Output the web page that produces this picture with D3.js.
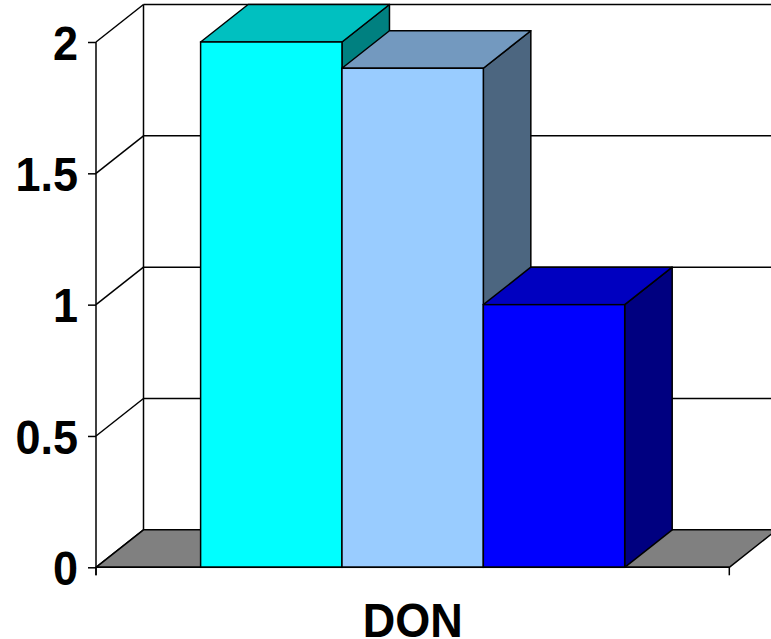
<!DOCTYPE html>
<html>
<head>
<meta charset="utf-8">
<script src="https://cdn.jsdelivr.net/npm/d3@7"></script>
<style>
html,body{margin:0;padding:0;background:#fff;}
svg{display:block;}
text{font-family:"Liberation Sans",Arial,sans-serif;font-weight:bold;fill:#000;}
</style>
</head>
<body>
<svg id="chart" width="771" height="639"></svg>
<script>
const categories = ["DON"];
const series = ["Series 1", "Series 2", "Series 3"];
const values = [2.0, 1.9, 1.0];
const yTicks = [0, 0.5, 1, 1.5, 2];
const yTickLabels = ["0", "0.5", "1", "1.5", "2"];
const frontColors = ["#00FFFF", "#99CCFF", "#0000FF"];
const topColors = ["#00C0C0", "#7399BF", "#0000C0"];
const sideColors = ["#008080", "#4C6680", "#000080"];

(function () {
const svg = d3.select("#chart");
const pLeft = 96, pRight = 729.3, pBottom = 567.3, pTop = 42;
const dx = 47.5, dy = -37.5;
const SW = 1.5;

const y = d3.scaleLinear().domain([0, 2]).range([pBottom, pTop]);
const xCat = d3.scaleBand().domain(categories).range([pLeft, pRight]);
const xSer = d3.scaleBand().domain(series).range([pLeft, pRight]).paddingInner(0).paddingOuter(0.74);

const g = svg.append("g");

// back wall gridlines + side wall diagonals
yTicks.forEach(t => {
  g.append("line")
    .attr("x1", pLeft + dx).attr("x2", pRight + dx)
    .attr("y1", y(t) + dy).attr("y2", y(t) + dy)
    .attr("stroke", "#000").attr("stroke-width", SW);
  g.append("line")
    .attr("x1", pLeft).attr("y1", y(t))
    .attr("x2", pLeft + dx).attr("y2", y(t) + dy)
    .attr("stroke", "#000").attr("stroke-width", SW);
});
g.append("line")
  .attr("x1", pLeft + dx).attr("x2", pLeft + dx)
  .attr("y1", y(2) + dy).attr("y2", y(0) + dy)
  .attr("stroke", "#000").attr("stroke-width", SW);

// floor
g.append("path")
  .attr("d", `M${pLeft},${y(0)}L${pRight},${y(0)}L${pRight + dx},${y(0) + dy}L${pLeft + dx},${y(0) + dy}Z`)
  .attr("fill", "#808080").attr("stroke", "#000").attr("stroke-width", SW)
  .attr("stroke-linejoin", "round");

// bars
series.forEach((s, i) => {
  const x0 = xSer(s), x1 = x0 + xSer.bandwidth();
  const yv = y(values[i]), y0 = y(0);
  const bg = g.append("g");
  bg.append("path")
    .attr("d", `M${x1},${yv}L${x1 + dx},${yv + dy}L${x1 + dx},${y0 + dy}L${x1},${y0}Z`)
    .attr("fill", sideColors[i]).attr("stroke", "#000").attr("stroke-width", SW).attr("stroke-linejoin", "round");
  bg.append("path")
    .attr("d", `M${x0},${yv}L${x1},${yv}L${x1 + dx},${yv + dy}L${x0 + dx},${yv + dy}Z`)
    .attr("fill", topColors[i]).attr("stroke", "#000").attr("stroke-width", SW).attr("stroke-linejoin", "round");
  bg.append("rect")
    .attr("x", x0).attr("y", yv).attr("width", x1 - x0).attr("height", y0 - yv)
    .attr("fill", frontColors[i]).attr("stroke", "#000").attr("stroke-width", SW);
});

// front y axis
const yAxis = d3.axisLeft(y).tickValues(yTicks).tickFormat((d, i) => yTickLabels[i]).tickSize(8).tickPadding(10);
const ya = svg.append("g").attr("transform", `translate(${pLeft},0)`).call(yAxis);
ya.attr("font-family", null).attr("font-size", null);
ya.select(".domain").attr("stroke", "#000").attr("stroke-width", SW).attr("d", `M0,${pTop}V${pBottom + 8}`);
ya.selectAll(".tick line").attr("stroke", "#000").attr("stroke-width", SW);
ya.selectAll(".tick text").style("font-size", "45px").style("font-weight", "bold")
  .attr("fill", "#000").attr("dy", "0.36em").attr("transform", "scale(1,1.06)");

// x axis line & ticks
const xa = svg.append("g");
xa.append("line").attr("x1", pLeft).attr("x2", pRight).attr("y1", pBottom).attr("y2", pBottom)
  .attr("stroke", "#000").attr("stroke-width", SW);
[pLeft, pRight].forEach(xx => {
  xa.append("line").attr("x1", xx).attr("x2", xx).attr("y1", pBottom).attr("y2", pBottom + 8)
    .attr("stroke", "#000").attr("stroke-width", SW);
});
categories.forEach(c => {
  xa.append("text")
    .attr("transform", `translate(${xCat(c) + xCat.bandwidth() / 2},636.5) scale(1,1.08)`)
    .attr("text-anchor", "middle")
    .style("font-size", "45px")
    .text(c);
});
})();
</script>
</body>
</html>
